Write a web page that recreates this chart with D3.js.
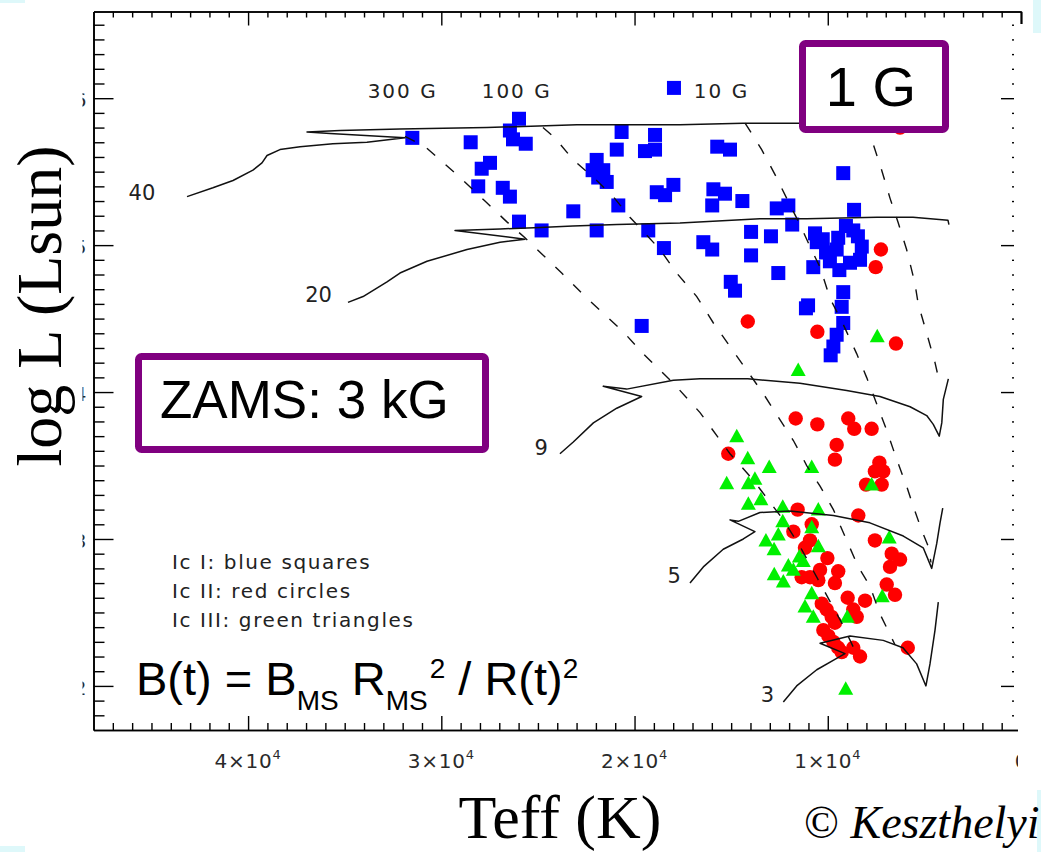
<!DOCTYPE html>
<html>
<head>
<meta charset="utf-8">
<script src="https://cdn.jsdelivr.net/npm/d3@7"></script>
<style>
  body { margin: 0; background: #fff; }
  svg { display: block; }
</style>
</head>
<body>
<svg id="chart" width="1041" height="852"></svg>
<script>
// ---- Data: HR diagram (Teff in K, log L in solar units) ----
const teffMajorTicks = [40000, 30000, 20000, 10000, 0];
const teffTickMantissa = ["4", "3", "2", "1", "0"];
const logLMajorTicks = [2, 3, 4, 5, 6];
const logLTickLabels = ["2", "3", "4", "5", "6"];

// Ic I stars
const blueSquares = [
  [31500,5.73],[28480,5.70],[25980,5.86],[26450,5.78],[26290,5.72],[25630,5.69],
  [27480,5.56],[27910,5.52],[28090,5.40],[26820,5.39],[26450,5.33],[25980,5.16],
  [24810,5.10],[23170,5.23],[21960,5.10],[20670,5.77],[20920,5.65],[18940,5.75],
  [18940,5.65],[19460,5.64],[21960,5.58],[22170,5.51],[21620,5.51],[21440,5.43],
  [21880,5.46],[20840,5.27],[17990,5.41],[18850,5.36],[18420,5.34],[19290,5.10],
  [18480,4.98],[15720,5.67],[15060,5.65],[9200,5.49],[15920,5.38],[15320,5.35],
  [15980,5.27],[14420,5.30],[12640,5.25],[12040,5.27],[8640,5.24],[11840,5.14],
  [13970,5.09],[12940,5.06],[16440,5.02],[15980,4.97],[13970,4.93],[12560,4.81],
  [10750,4.85],[15020,4.75],[14800,4.69],[9200,4.68],
  [10660,5.08],[10260,5.04],[10570,5.02],[9460,5.05],[9060,5.13],[8680,5.10],
  [8240,4.99],[8330,4.90],[8850,4.88],[9400,4.83],[9890,4.89],[9540,4.97],
  [10090,4.95],[8440,5.06],
  [19630,4.45],[11130,4.57],[11020,4.59],[9280,4.58],[9200,4.47],[9540,4.39],
  [9710,4.31],[9850,4.25],[17960,6.07]
];

// Ic II stars
const redCircles = [
  [6260,5.80],[7250,4.97],[7520,4.85],[14140,4.48],[10540,4.41],[6470,4.33],
  [11660,3.82],[10540,3.78],[8940,3.82],[8630,3.75],[7730,3.75],[9540,3.64],
  [9630,3.54],[15150,3.58],[7330,3.52],[7560,3.46],[7130,3.46],[8020,3.37],
  [7210,3.37],[11560,3.20],[8420,3.16],[10830,3.10],[11780,3.05],[10920,2.99],
  [11180,2.94],[7560,2.99],[6690,2.90],[6260,2.86],[6780,2.81],[10020,2.87],
  [10400,2.79],[10920,2.74],[11350,2.74],[9460,2.78],[9630,2.70],[10490,2.72],
  [6950,2.69],[6520,2.62],[8970,2.60],[8070,2.58],[10310,2.56],[10060,2.52],
  [9800,2.47],[8680,2.52],[8500,2.47],[9630,2.43],[10230,2.38],[9970,2.34],
  [9710,2.30],[9460,2.26],[9280,2.23],[8680,2.26],[8330,2.20],[5860,2.26]
];

// Ic III stars
const greenTriangles = [
  [7440,4.38],[11530,4.15],[14710,3.70],[14140,3.55],[13030,3.49],[10830,3.49],
  [7730,3.37],[15230,3.38],[14110,3.38],[13770,3.41],[14110,3.24],[13460,3.27],
  [12330,3.22],[10490,3.20],[10830,3.08],[12330,3.12],[12560,3.03],[13200,2.99],
  [12780,2.93],[10490,2.95],[6820,3.01],[11470,2.88],[11270,2.85],[12040,2.82],
  [11780,2.79],[12770,2.76],[12300,2.71],[10830,2.63],[7180,2.61],[11180,2.54],
  [10750,2.47],[8990,2.47],[9070,1.98]
];

// Evolutionary tracks (initial mass in Msun)
const trackMasses = ["40", "20", "9", "5", "3"];
const track40 = [[43160,5.33],[41820,5.39],[40780,5.44],[39750,5.51],[39280,5.56],[39020,5.61],
  [38350,5.65],[37310,5.67],[35610,5.69],[33850,5.70],[31880,5.73],[35760,5.76],[36950,5.77],
  [35240,5.78],[32140,5.79],[27640,5.80],[22980,5.82],[17650,5.82],[14390,5.83],[11440,5.83],[3930,5.84]];
const track20 = [[34830,4.61],[34050,4.65],[32810,4.75],[32140,4.81],[30740,4.89],[28670,4.97],
  [26960,5.02],[25670,5.04],[29290,5.10],[26960,5.11],[24890,5.12],[23190,5.13],[20910,5.14],
  [17650,5.15],[13510,5.18],[11080,5.18],[7450,5.19],[5590,5.19],[3780,5.17],[3730,5.14]];
const track9 = [[23860,3.58],[23170,3.66],[22130,3.79],[20920,3.89],[19630,3.97],[21620,4.04],
  [20410,4.02],[17990,4.08],[16610,4.09],[14140,4.09],[11440,4.06],[9020,4.01],[7300,3.97],
  [5740,3.90],[4880,3.84],[4540,3.78],[4230,3.70],[4100,3.79],[4020,3.95],[3760,4.09]];
const track5 = [[17130,2.70],[16440,2.81],[15410,2.93],[14370,3.00],[13770,3.05],[15060,3.13],
  [14630,3.12],[13510,3.18],[11960,3.19],[9710,3.16],[7820,3.11],[6090,3.02],[5060,2.94],
  [4620,2.80],[4360,2.97],[4190,3.11],[4050,3.21]];
const track3 = [[12300,1.89],[11610,2.00],[10570,2.11],[9630,2.18],[9110,2.22],[10400,2.29],
  [8850,2.34],[7130,2.31],[6110,2.26],[5400,2.15],[4920,2.00],[4710,2.15],[4450,2.38],[4280,2.57]];
// label anchors (end of text) for each track, in data units
const trackLabelTeff = [44800, 35660, 24480, 17600, 12780];
const trackLabelLogL = [5.31, 4.61, 3.57, 2.70, 1.89];

// Lines of constant surface field
const fieldNames = ["300 G", "100 G", "10 G"];
const fieldLabelTeff = [32000, 26100, 15500];
const fieldLabelLogL = 6.0;
const field300 = [[31880,5.74],[30840,5.67],[29030,5.46],[27740,5.30],[26620,5.16],[25670,5.05],
  [23770,4.81],[22480,4.64],[20580,4.41],[19550,4.26],[17990,4.06],[16610,3.86],[15060,3.58],
  [13850,3.40],[12300,3.13],[11440,2.95],[10570,2.74],[9280,2.43],[8590,2.24]];
const field100 = [[24740,5.80],[24120,5.73],[23170,5.58],[21960,5.44],[21100,5.33],[20240,5.19],
  [18680,4.97],[17820,4.81],[16780,4.65],[15920,4.47],[15060,4.31],[13340,3.99],[11780,3.67],
  [11090,3.50],[10400,3.36],[9710,3.20],[9020,2.99],[8420,2.81],[7820,2.68],[7300,2.49],[6520,2.28]];
const field10 = [[14280,5.83],[13940,5.76],[13420,5.65],[12730,5.48],[12130,5.32],[11440,5.14],
  [10920,4.99],[10400,4.85],[9890,4.64],[9200,4.46],[8500,4.26],[7990,4.10],[7470,3.92],
  [6950,3.74],[6430,3.54],[5920,3.36],[5570,3.22],[5140,3.06],[4800,2.95],[4660,2.84]];
const field1 = [[8020,5.84],[7680,5.70],[7210,5.51],[6780,5.32],[6350,5.15],[5920,4.97],
  [5490,4.74],[5320,4.60],[4880,4.40],[4450,4.20],[4190,4.05]];

const legendLines = ["Ic I: blue squares", "Ic II: red circles", "Ic III: green triangles"];

// ---- Drawing ----
const svg = d3.select("#chart");
const W = 1041, H = 852;
const x = d3.scaleLinear().domain([48000, 0]).range([93.5, 1021]);
const y = d3.scaleLinear().domain([1.7, 6.59]).range([730, 11.5]);

const idlFont = "'DejaVu Sans', Verdana, sans-serif";
const arial = "'Liberation Sans', Arial, sans-serif";
const serif = "'Liberation Serif', 'Times New Roman', serif";
const cyan = "#def8fa";

svg.append("rect").attr("width", W).attr("height", H).attr("fill", "#fff");

// markers
const marks = svg.append("g");
marks.selectAll("rect.sq").data(blueSquares).join("rect")
  .attr("class", "sq")
  .attr("x", d => x(d[0]) - 7).attr("y", d => y(d[1]) - 7)
  .attr("width", 14).attr("height", 14).attr("fill", "#0000ff");
marks.selectAll("circle").data(redCircles).join("circle")
  .attr("cx", d => x(d[0])).attr("cy", d => y(d[1])).attr("r", 7.2).attr("fill", "#ff0000");
marks.selectAll("path.tri").data(greenTriangles).join("path")
  .attr("class", "tri")
  .attr("d", d => {
    const cx = x(d[0]), cy = y(d[1]);
    return `M${cx},${cy - 7.5}L${cx + 7.5},${cy + 6}L${cx - 7.5},${cy + 6}Z`;
  })
  .attr("fill", "#00f000");

// tracks and field lines
const line = d3.line().x(d => x(d[0])).y(d => y(d[1]));
const lines = svg.append("g").attr("fill", "none").attr("stroke", "#111");
[track40, track20, track9, track5, track3].forEach(t =>
  lines.append("path").attr("d", line(t)).attr("stroke-width", 1.5).attr("stroke-linejoin", "round"));
[field300, field100, field10, field1].forEach(f =>
  lines.append("path").attr("d", line(f)).attr("stroke-width", 1.4).attr("stroke-dasharray", "11,14"));

// axes
const majorT = d3.range(0, 48001, 10000);
const minorT = d3.range(1000, 48000, 1000).filter(v => v % 10000 !== 0);
const minorL = d3.range(18, 66).map(v => v / 10).filter(v => Math.abs(v - Math.round(v)) > 1e-6);

function styleAxis(g) {
  g.selectAll("text").remove();
  g.selectAll("path.domain").attr("stroke", "#000").attr("stroke-width", 1.6);
  g.selectAll(".tick line").attr("stroke", "#000").attr("stroke-width", 1.4);
}
const axes = svg.append("g");
axes.append("g").attr("transform", "translate(0,730)")
  .call(d3.axisTop(x).tickValues(majorT).tickSize(14).tickSizeOuter(0)).call(styleAxis);
axes.append("g").attr("transform", "translate(0,730)")
  .call(d3.axisTop(x).tickValues(minorT).tickSize(7).tickSizeOuter(0)).call(styleAxis);
axes.append("g").attr("transform", "translate(0,11.5)")
  .call(d3.axisBottom(x).tickValues(majorT).tickSize(14).tickSizeOuter(0)).call(styleAxis);
axes.append("g").attr("transform", "translate(0,11.5)")
  .call(d3.axisBottom(x).tickValues(minorT).tickSize(6).tickSizeOuter(0)).call(styleAxis);
axes.append("g").attr("transform", "translate(93.5,0)")
  .call(d3.axisRight(y).tickValues(logLMajorTicks).tickSize(20).tickSizeOuter(0)).call(styleAxis);
axes.append("g").attr("transform", "translate(93.5,0)")
  .call(d3.axisRight(y).tickValues(minorL).tickSize(11).tickSizeOuter(0)).call(styleAxis);
axes.append("g").attr("transform", "translate(1021,0)")
  .call(d3.axisLeft(y).tickValues(logLMajorTicks).tickSize(20).tickSizeOuter(0)).call(styleAxis);
axes.append("g").attr("transform", "translate(1021,0)")
  .call(d3.axisLeft(y).tickValues(minorL).tickSize(9).tickSizeOuter(0)).call(styleAxis);

// x tick labels
const xl = svg.append("g").attr("font-family", idlFont).attr("font-size", 20).attr("fill", "#2a2a2a");
teffMajorTicks.forEach((t, i) => {
  if (t === 0) {
    xl.append("text").attr("x", x(t)).attr("y", 768).attr("text-anchor", "middle").text("0");
    return;
  }
  const tx = xl.append("text").attr("x", x(t)).attr("y", 768).attr("text-anchor", "middle")
    .attr("letter-spacing", 0.8);
  tx.append("tspan").text(teffTickMantissa[i] + "\u00d710");
  tx.append("tspan").attr("font-size", 13).attr("dy", -9).text("4");
});

// right edge is overlapped by a neighbouring slide element
svg.append("rect").attr("x", 1014).attr("y", 24).attr("width", 27).attr("height", 703).attr("fill", "#fff");
svg.append("rect").attr("x", 1018).attr("y", 727).attr("width", 18).attr("height", 75).attr("fill", "#fff");

// y tick labels, mostly hidden behind the axis title
svg.append("clipPath").attr("id", "ylabClip")
  .append("rect").attr("x", 82.5).attr("y", 0).attr("width", 10).attr("height", H);
const yl = svg.append("g").attr("clip-path", "url(#ylabClip)")
  .attr("font-family", idlFont).attr("font-size", 20).attr("fill", "#2a2a2a");
logLMajorTicks.forEach((v, i) =>
  yl.append("text").attr("x", 86.5).attr("y", y(v) + 9).attr("text-anchor", "end").text(logLTickLabels[i]));

// in-plot labels
const lab = svg.append("g").attr("font-family", idlFont).attr("font-size", 20).attr("fill", "#222");
fieldNames.forEach((n, i) =>
  lab.append("text").attr("x", x(fieldLabelTeff[i])).attr("y", y(fieldLabelLogL))
    .attr("text-anchor", "middle").attr("letter-spacing", 2).text(n));
trackMasses.forEach((m, i) =>
  lab.append("text").attr("x", x(trackLabelTeff[i])).attr("y", y(trackLabelLogL[i]))
    .attr("text-anchor", "end").attr("font-size", 21).text(m));
legendLines.forEach((t, i) =>
  lab.append("text").attr("x", 172).attr("y", 569 + i * 29).attr("letter-spacing", 1.6).text(t));

// boxed annotations
function box(x0, y0, w, h) {
  svg.append("rect").attr("x", x0).attr("y", y0).attr("width", w).attr("height", h)
    .attr("rx", 3).attr("fill", "#fff").attr("stroke", "#800080").attr("stroke-width", 7);
}
box(802.5, 43.5, 143, 86);
svg.append("text").attr("x", 871).attr("y", 106).attr("text-anchor", "middle")
  .attr("font-family", arial).attr("font-size", 56).attr("fill", "#000").text("1 G");
box(138.5, 356.5, 347, 93);
svg.append("text").attr("x", 160).attr("y", 418)
  .attr("font-family", arial).attr("font-size", 53).attr("fill", "#000").text("ZAMS: 3 kG");

// field evolution formula
const f = svg.append("text").attr("x", 136).attr("y", 695)
  .attr("font-family", arial).attr("font-size", 47).attr("fill", "#000");
f.append("tspan").text("B(t) = B");
f.append("tspan").attr("font-size", 28).attr("dy", 15).text("MS");
f.append("tspan").attr("dy", -15).text(" R");
f.append("tspan").attr("font-size", 28).attr("dy", 15).text("MS");
f.append("tspan").attr("font-size", 28).attr("dy", -32).attr("dx", 2).text("2");
f.append("tspan").attr("dy", 17).text(" / R(t)");
f.append("tspan").attr("font-size", 28).attr("dy", -17).text("2");

// axis titles
svg.append("text").attr("transform", "translate(61,306) rotate(-90)")
  .attr("text-anchor", "middle").attr("font-family", serif).attr("font-size", 64)
  .attr("fill", "#000").text("log L (Lsun)");
svg.append("text").attr("x", 560).attr("y", 838).attr("text-anchor", "middle")
  .attr("font-family", serif).attr("font-size", 62).attr("fill", "#000").text("Teff (K)");

// small cyan slide fragments at the edges
[[0,0,25,3],[0,846,25,6],[1033,0,8,33],[1037,790,4,62]].forEach(r =>
  svg.append("rect").attr("x", r[0]).attr("y", r[1]).attr("width", r[2]).attr("height", r[3]).attr("fill", cyan));

// credit
const c = svg.append("text").attr("x", 804).attr("y", 838)
  .attr("font-family", serif).attr("font-size", 46).attr("fill", "#000");
c.append("tspan").text("\u00a9 ");
c.append("tspan").attr("font-style", "italic").text("Keszthelyi");
</script>
</body>
</html>
